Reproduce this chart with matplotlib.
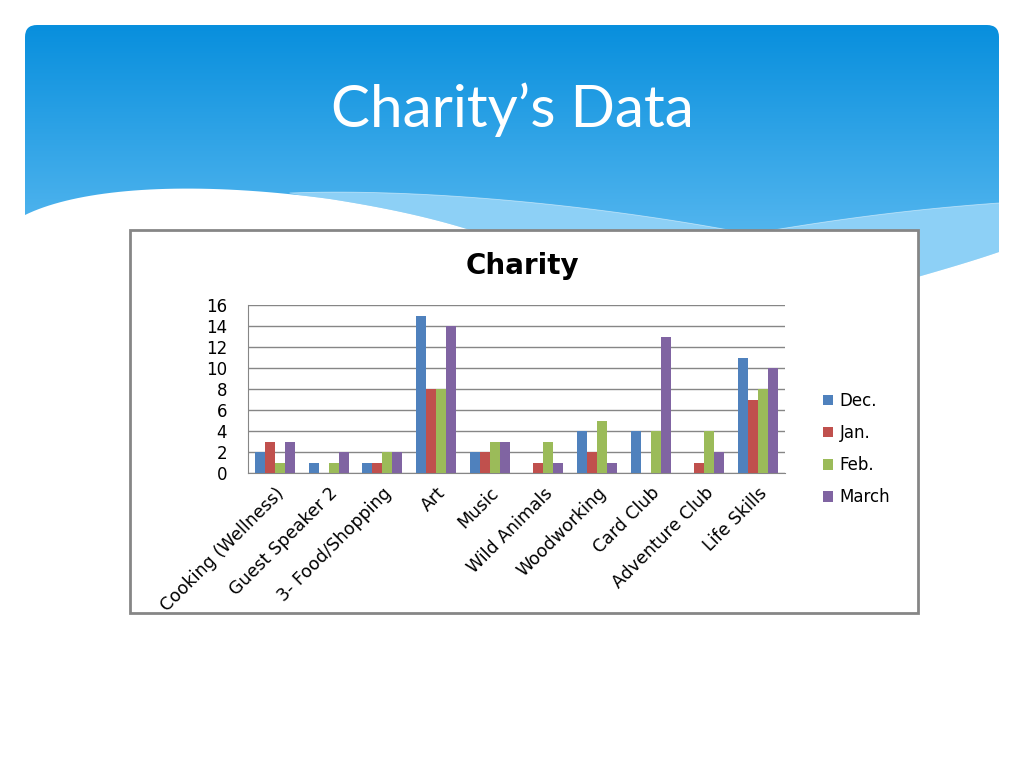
import numpy as np
import matplotlib
matplotlib.use("Agg")
import matplotlib.pyplot as plt
from matplotlib.patches import FancyBboxPatch, Rectangle, Polygon, Patch

categories = ["Cooking (Wellness)", "Guest Speaker 2", "3- Food/Shopping", "Art", "Music",
              "Wild Animals", "Woodworking", "Card Club", "Adventure Club", "Life Skills"]
dec = [2, 1, 1, 15, 2, 0, 4, 4, 0, 11]
jan = [3, 0, 1, 8, 2, 1, 2, 0, 1, 7]
feb = [1, 1, 2, 8, 3, 3, 5, 4, 4, 8]
march = [3, 2, 2, 14, 3, 1, 1, 13, 2, 10]
series_names = ["Dec.", "Jan.", "Feb.", "March"]
yticks = [0, 2, 4, 6, 8, 10, 12, 14, 16]

colors = ["#4F81BD", "#C0504D", "#9BBB59", "#8064A2"]
CHART_FONT = ["DejaVu Sans"]
TITLE_FONT = ["Lato", "DejaVu Sans"]
plt.rcParams['font.family'] = CHART_FONT

W, H = 1024, 768
fig = plt.figure(figsize=(W / 100, H / 100), dpi=100)
fig.patch.set_facecolor("white")


def bez(p0, p1, p2, p3, n=40):
    s = np.linspace(0, 1, n)[:, None]
    p0, p1, p2, p3 = map(np.array, (p0, p1, p2, p3))
    return ((1 - s) ** 3) * p0 + 3 * ((1 - s) ** 2) * s * p1 + 3 * (1 - s) * s ** 2 * p2 + s ** 3 * p3


# background decoration axes in pixel coordinates
bg = fig.add_axes([0, 0, 1, 1], zorder=0)
bg.set_xlim(0, W)
bg.set_ylim(H, 0)
bg.axis("off")

header = FancyBboxPatch((25, 25), 974, 300, boxstyle="round,pad=0,rounding_size=12",
                        facecolor="none", edgecolor="none")
bg.add_patch(header)
top = np.array([8, 143, 221]) / 255.0
bot = np.array([115, 198, 246]) / 255.0
t = np.linspace(0, 1, 300)[:, None]
grad = (top[None, :] * (1 - t) + bot[None, :] * t)[:, None, :]
grad = np.repeat(grad, 2, axis=1)
im = bg.imshow(grad, extent=[25, 999, 325, 25], aspect="auto", zorder=1)
im.set_clip_path(header)

# white wave boundary
w1 = bez((25, 215), (80, 188), (190, 180), (330, 199))
w2 = bez((330, 199), (400, 210), (450, 222), (500, 240))
w3 = bez((900, 282), (935, 272), (970, 262), (999, 252))
white_curve = np.vstack([w1, w2, [(700, 320)], w3])

# light band on top of white wave
b1 = bez((290, 193), (420, 188), (600, 205), (750, 234))
b2 = bez((750, 234), (820, 222), (900, 210), (999, 203))
band_top = np.vstack([b1, b2])
wr = white_curve[white_curve[:, 0] >= 290]
band_poly = np.vstack([band_top, wr[::-1]])
bg.add_patch(Polygon(band_poly, closed=True, facecolor="#8dd0f6", edgecolor="none", zorder=2))
bg.plot(band_top[:, 0], band_top[:, 1], color="white", lw=0.6, alpha=0.5, zorder=2.5)

white_poly = np.vstack([white_curve, [(1024, 252), (1024, 768), (0, 768), (0, 215)]])
bg.add_patch(Polygon(white_poly, closed=True, facecolor="white", edgecolor="none", zorder=3))

bg.text(512, 110, "Charity\u2019s Data", color="white", fontsize=42, ha="center", va="center",
        family=TITLE_FONT, zorder=4)

# chart box
bg.add_patch(Rectangle((130, 230), 788, 383, facecolor="white", edgecolor="#868686", lw=2, zorder=5))
bg.text(522, 266, "Charity", color="black", fontsize=20, fontweight="bold", ha="center",
        va="center", zorder=6)

# chart axes
L, R, T, B = 248, 785, 305, 473
ax = fig.add_axes([L / W, (H - B) / H, (R - L) / W, (B - T) / H], zorder=2)
ax.set_facecolor("none")
x = np.arange(len(categories))
bw = 0.186
for i, (vals, c, name) in enumerate(zip([dec, jan, feb, march], colors, series_names)):
    ax.bar(x + (i - 1.5) * bw, vals, width=bw, color=c, label=name, zorder=3)

ax.set_xlim(-0.5, len(categories) - 0.5)
ax.set_ylim(0, 16)
ax.set_yticks(yticks)
ax.set_yticklabels([str(v) for v in yticks], fontsize=12)
ax.yaxis.grid(True, color="#868686", lw=1)
ax.set_axisbelow(True)
for s in ["top", "right"]:
    ax.spines[s].set_visible(False)
for s in ["left", "bottom"]:
    ax.spines[s].set_color("#868686")
ax.tick_params(axis="y", length=0, pad=15)
ax.tick_params(axis="x", length=0, pad=8)
ax.set_xticks(x)
ax.set_xticklabels(categories, rotation=45, ha="right", rotation_mode="anchor", fontsize=12.5)

handles = [Patch(facecolor=c, edgecolor="none") for c in colors]
fig.legend(handles, series_names, loc="center left", bbox_to_anchor=(808 / W, 1 - 449 / H),
           frameon=False, fontsize=12, handlelength=0.6, handleheight=0.6,
           labelspacing=0.85, handletextpad=0.4)

fig.savefig("out.png", dpi=100)
